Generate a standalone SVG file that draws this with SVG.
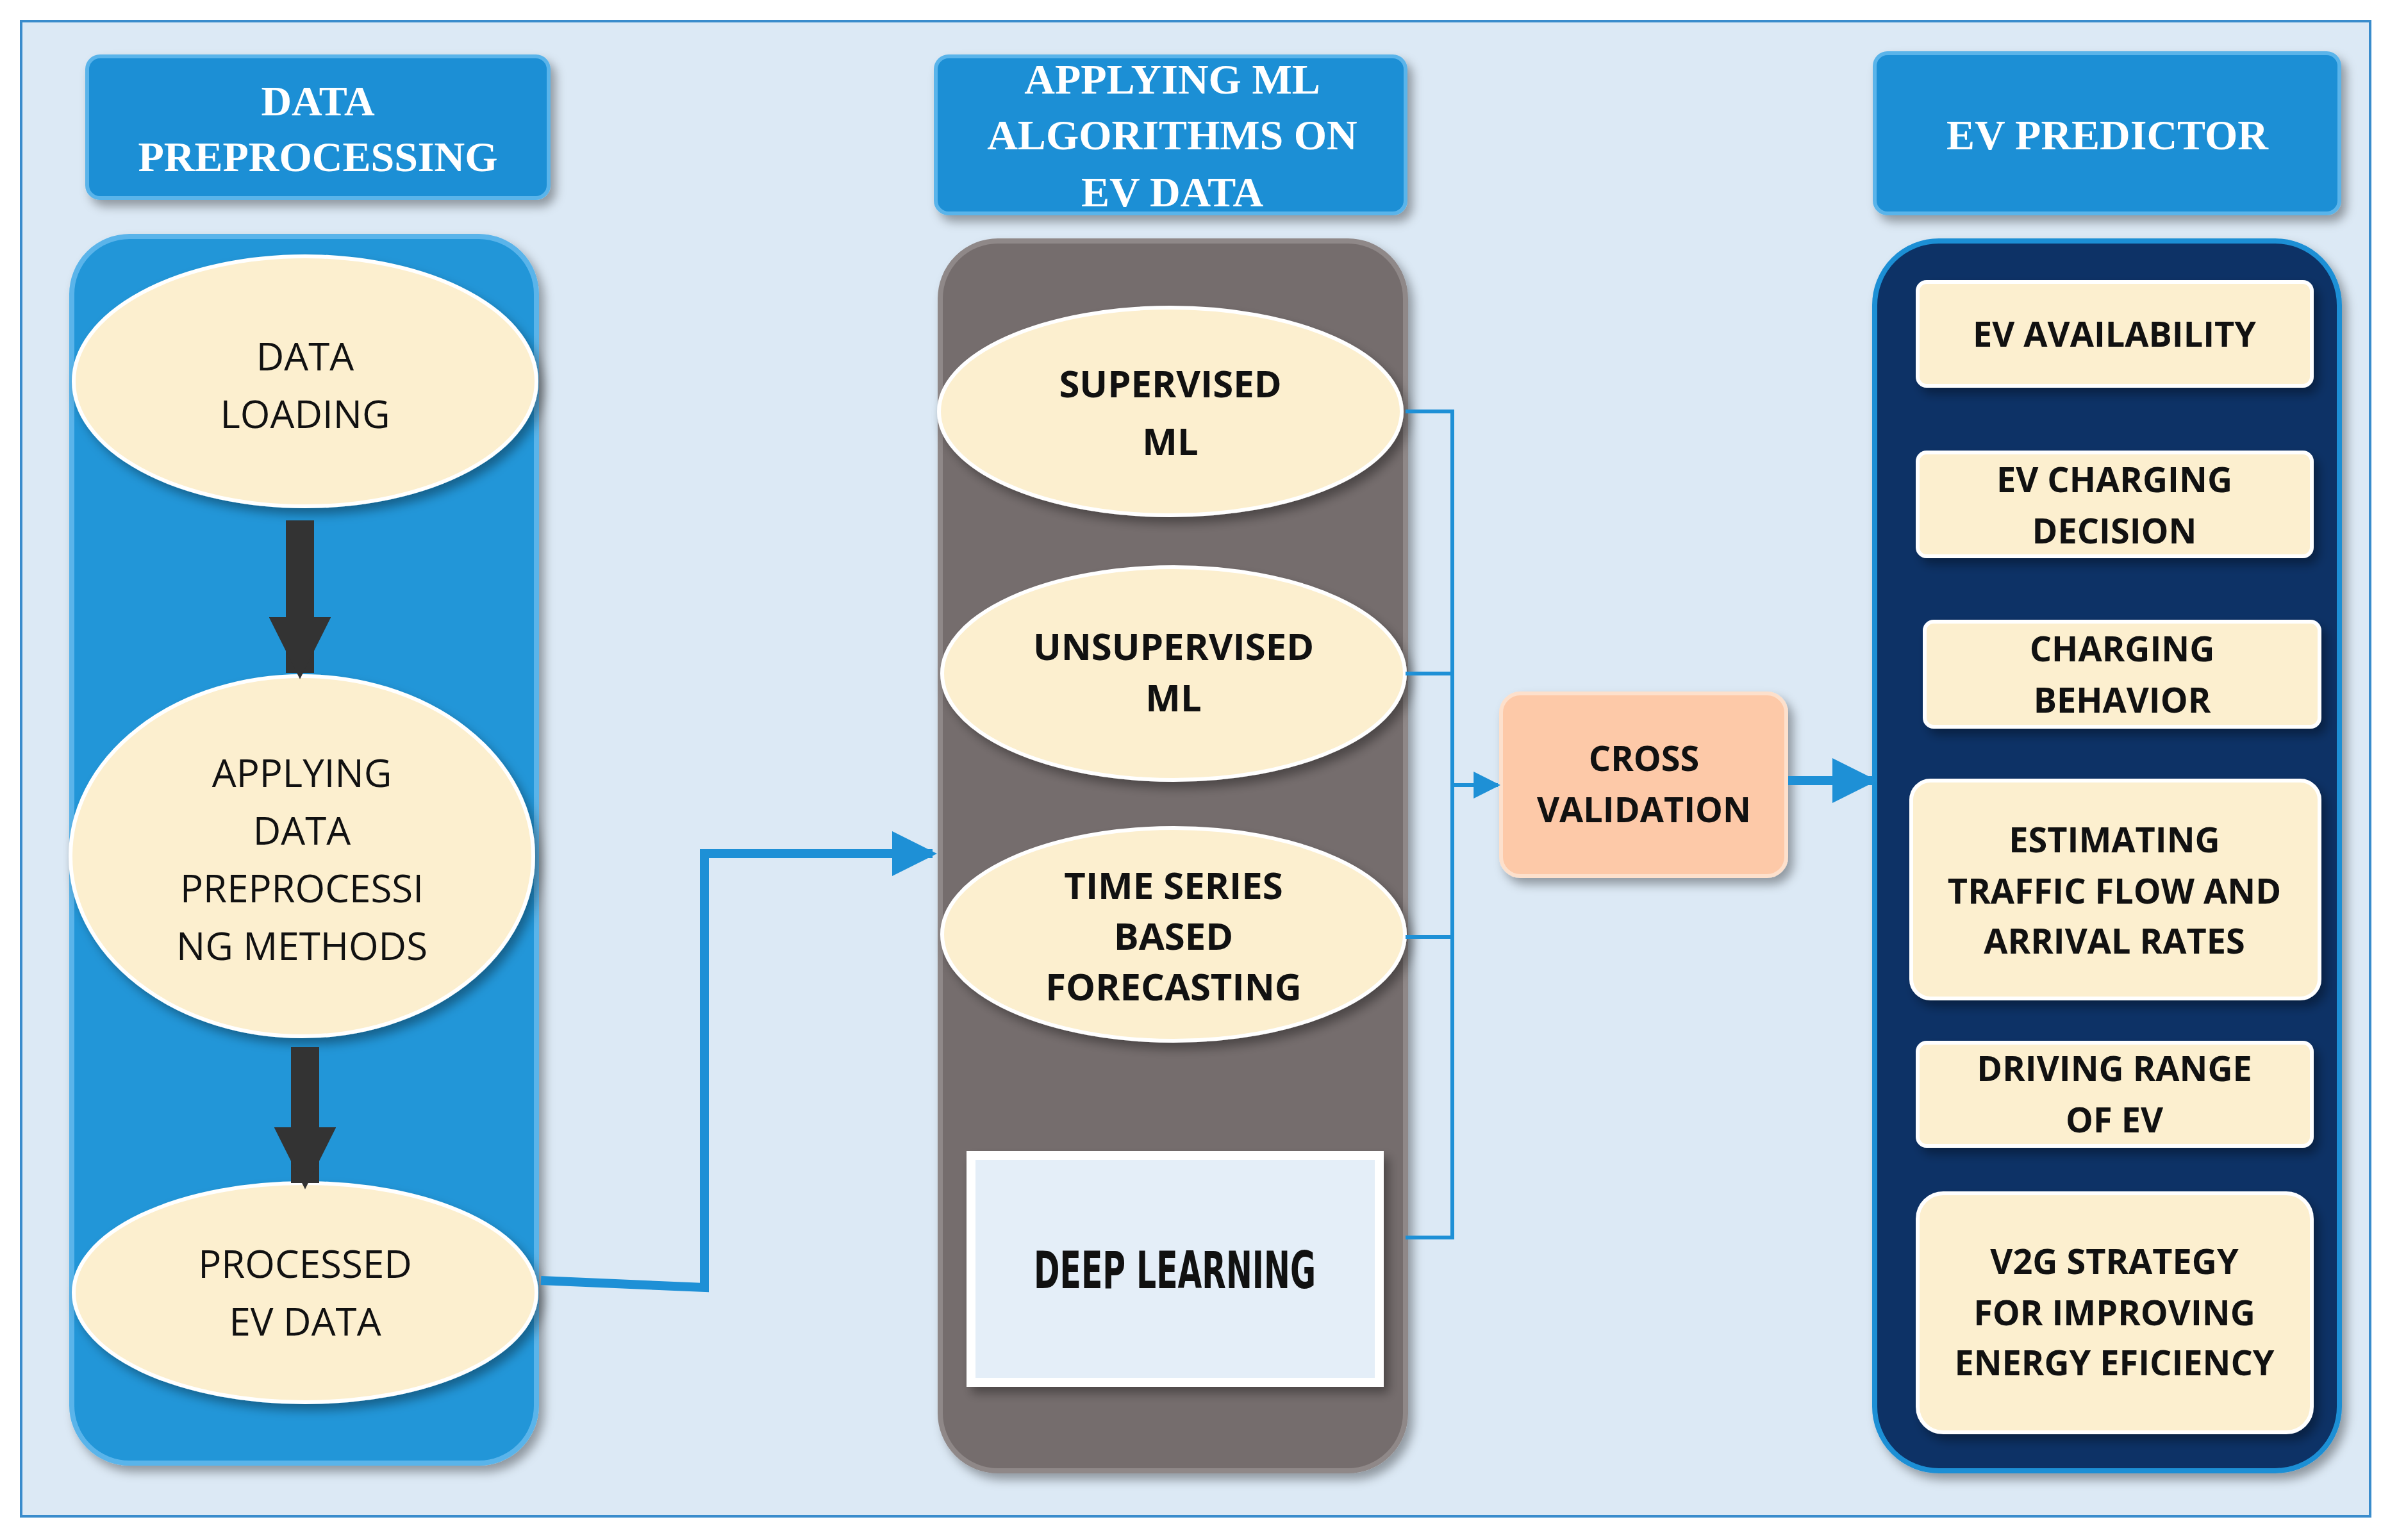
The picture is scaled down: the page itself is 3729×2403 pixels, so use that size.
<svg xmlns="http://www.w3.org/2000/svg" width="3729" height="2403" viewBox="0 0 3729 2403">
<style>
.hdr{fill:#1e8fd5;stroke:#5ab4ea;stroke-width:6}
.ht{font-family:"Liberation Serif",serif;font-weight:bold;font-size:66px;fill:#fff;text-anchor:middle}
.el{fill:#fcefcf;stroke:#fff;stroke-width:6}
.et{font-family:"Open Sans","Liberation Sans",sans-serif;font-size:60px;fill:#111;text-anchor:middle}
.eb{font-family:"Open Sans","Liberation Sans",sans-serif;font-weight:bold;font-size:58px;fill:#111;text-anchor:middle}
.bx{fill:#fcefcf;stroke:#fff;stroke-width:6}
.bt{font-family:"Open Sans","Liberation Sans",sans-serif;font-weight:bold;font-size:54px;fill:#111;text-anchor:middle}
.thin{stroke:#1e90d6;stroke-width:6;fill:none}
</style>
<defs>
<filter id="sh" x="-20%" y="-20%" width="140%" height="140%"><feDropShadow dx="8" dy="10" stdDeviation="8" flood-color="#000" flood-opacity="0.35"/></filter>
<marker id="ab" viewBox="0 0 10 10" refX="9" refY="5" markerWidth="5" markerHeight="5" orient="auto"><path d="M0,0L10,5L0,10z" fill="#1e90d6"/></marker>
<marker id="ad" viewBox="0 0 10 10" refX="9" refY="5" markerWidth="2.6" markerHeight="2.2" orient="auto"><path d="M0,0L10,5L0,10z" fill="#333"/></marker>
<marker id="as" viewBox="0 0 10 10" refX="9" refY="5" markerWidth="7" markerHeight="7" orient="auto"><path d="M0,0L10,5L0,10z" fill="#1e90d6"/></marker>
</defs>
<rect x="33" y="33" width="3665" height="2333" fill="#dce9f5" stroke="#3a8ccc" stroke-width="4"/>
<g id="col1">
<rect x="112" y="369" width="725" height="1914" rx="90" fill="#2196d8" stroke="#5ab4ea" stroke-width="8" filter="url(#sh)"/>
</g>
<g id="col2">
<rect x="1467" y="376" width="726" height="1919" rx="90" fill="#756d6d" stroke="#8f8888" stroke-width="8" filter="url(#sh)"/>
</g>
<g id="col3">
<rect x="2925" y="376" width="725" height="1919" rx="100" fill="#0b3366" stroke="#1e8fd5" stroke-width="8" filter="url(#sh)"/>
</g>
<g id="h1"><rect class="hdr" x="136" y="88" width="720" height="221" rx="20" filter="url(#sh)"/><text class="ht" x="496" y="180">DATA</text><text class="ht" x="496" y="267">PREPROCESSING</text></g>
<g id="h2"><rect class="hdr" x="1460" y="88" width="733" height="245" rx="20" filter="url(#sh)"/><text class="ht" x="1829" y="146">APPLYING ML</text><text class="ht" x="1829" y="233">ALGORITHMS ON</text><text class="ht" x="1829" y="322">EV DATA</text></g>
<g id="h3"><rect class="hdr" x="2925" y="83" width="725" height="250" rx="20" filter="url(#sh)"/><text class="ht" x="3288" y="233">EV PREDICTOR</text></g>
<g id="n1"><ellipse class="el" cx="476" cy="595" rx="361" ry="195" filter="url(#sh)"/><text class="et" x="476" y="578">DATA</text><text class="et" x="476" y="668">LOADING</text></g>
<g id="n2"><ellipse class="el" cx="471" cy="1336" rx="361" ry="281" filter="url(#sh)"/><text class="et" x="471" y="1228">APPLYING</text><text class="et" x="471" y="1318">DATA</text><text class="et" x="471" y="1408">PREPROCESSI</text><text class="et" x="471" y="1498">NG METHODS</text></g>
<g id="n3"><ellipse class="el" cx="476" cy="2017" rx="361" ry="171" filter="url(#sh)"/><text class="et" x="476" y="1994">PROCESSED</text><text class="et" x="476" y="2084">EV DATA</text></g>
<g id="n4"><ellipse class="el" cx="1826" cy="642" rx="361" ry="162" filter="url(#sh)"/><text class="eb" x="1826" y="620">SUPERVISED</text><text class="eb" x="1826" y="710">ML</text></g>
<g id="n5"><ellipse class="el" cx="1831" cy="1051" rx="361" ry="166" filter="url(#sh)"/><text class="eb" x="1831" y="1030">UNSUPERVISED</text><text class="eb" x="1831" y="1110">ML</text></g>
<g id="n6"><ellipse class="el" cx="1831" cy="1458" rx="361" ry="166" filter="url(#sh)"/><text class="eb" x="1831" y="1403">TIME SERIES</text><text class="eb" x="1831" y="1482">BASED</text><text class="eb" x="1831" y="1561">FORECASTING</text></g>
<g id="n7"><rect x="1515" y="1803" width="637" height="354" fill="#e4eef8" stroke="#fff" stroke-width="14" filter="url(#sh)"/><text x="1833" y="2010" text-anchor="middle" textLength="440" lengthAdjust="spacingAndGlyphs" font-family="DejaVu Sans,sans-serif" font-weight="bold" font-size="80" fill="#111">DEEP LEARNING</text></g>
<g id="n8"><rect x="2342" y="1082" width="445" height="285" rx="30" fill="#fdc9a8" stroke="#fde0cc" stroke-width="6" filter="url(#sh)"/><text class="bt" x="2565" y="1203">CROSS</text><text class="bt" x="2565" y="1283">VALIDATION</text></g>
<g id="o1"><rect class="bx" x="2992" y="440" width="615" height="162" rx="14" filter="url(#sh)"/><text class="bt" x="3299" y="541" font-weight="normal">EV AVAILABILITY</text></g>
<g id="o2"><rect class="bx" x="2992" y="706" width="615" height="162" rx="14" filter="url(#sh)"/><text class="bt" x="3299" y="768">EV CHARGING</text><text class="bt" x="3299" y="848">DECISION</text></g>
<g id="o3"><rect class="bx" x="3003" y="970" width="616" height="164" rx="14" filter="url(#sh)"/><text class="bt" x="3311" y="1032">CHARGING</text><text class="bt" x="3311" y="1112">BEHAVIOR</text></g>
<g id="o4"><rect class="bx" x="2982" y="1218" width="637" height="340" rx="30" filter="url(#sh)"/><text class="bt" x="3299" y="1330">ESTIMATING</text><text class="bt" x="3299" y="1410">TRAFFIC FLOW AND</text><text class="bt" x="3299" y="1488">ARRIVAL RATES</text></g>
<g id="o5"><rect class="bx" x="2992" y="1627" width="615" height="161" rx="14" filter="url(#sh)"/><text class="bt" x="3299" y="1687">DRIVING RANGE</text><text class="bt" x="3299" y="1767">OF EV</text></g>
<g id="o6"><rect class="bx" x="2992" y="1862" width="615" height="373" rx="40" filter="url(#sh)"/><text class="bt" x="3299" y="1988">V2G STRATEGY</text><text class="bt" x="3299" y="2068">FOR IMPROVING</text><text class="bt" x="3299" y="2146">ENERGY EFICIENCY</text></g>
<g id="connectors">
<line x1="468" y1="812" x2="468" y2="1050" stroke="#333" stroke-width="44" marker-end="url(#ad)"/>
<line x1="476" y1="1634" x2="476" y2="1846" stroke="#333" stroke-width="44" marker-end="url(#ad)"/>
<polyline points="844,1998 1099,2009 1099,1332 1455,1332" fill="none" stroke="#1e90d6" stroke-width="14" marker-end="url(#ab)"/>
<polyline class="thin" points="2193,642 2266,642 2266,1931 2193,1931"/>
<line class="thin" x1="2193" y1="1051" x2="2266" y2="1051"/>
<line class="thin" x1="2193" y1="1462" x2="2266" y2="1462"/>
<line class="thin" x1="2266" y1="1225" x2="2337" y2="1225" marker-end="url(#as)"/>
<line x1="2790" y1="1218" x2="2922" y2="1218" stroke="#1e90d6" stroke-width="14" marker-end="url(#ab)"/>
</g>
</svg>
